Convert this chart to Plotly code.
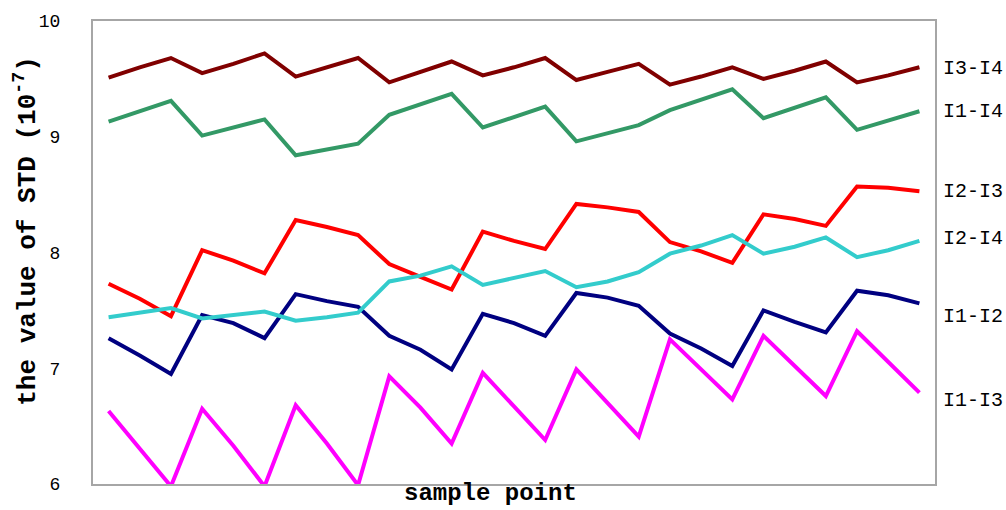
import plotly.graph_objects as go

# sample index along the x axis
sample_points = list(range(1, 28))

# standard deviation of each channel pair, in units of 1e-7
series_names = ["I1-I2", "I1-I3", "I1-I4", "I2-I3", "I2-I4", "I3-I4"]
i1_i2 = [7.26, 7.11, 6.95, 7.46, 7.39, 7.26, 7.64, 7.58, 7.53,
         7.28, 7.16, 6.99, 7.47, 7.39, 7.28, 7.65, 7.61, 7.54,
         7.30, 7.17, 7.02, 7.50, 7.40, 7.31, 7.67, 7.63, 7.56]
i1_i3 = [6.63, 6.31, 5.98, 6.65, 6.33, 5.98, 6.68, 6.35, 5.99,
         6.93, 6.66, 6.35, 6.96, 6.67, 6.38, 6.99, 6.70, 6.41,
         7.25, 6.99, 6.73, 7.28, 7.02, 6.76, 7.32, 7.06, 6.79]
i1_i4 = [9.13, 9.22, 9.31, 9.01, 9.08, 9.15, 8.84, 8.89, 8.94,
         9.19, 9.28, 9.37, 9.08, 9.17, 9.26, 8.96, 9.03, 9.10,
         9.23, 9.32, 9.41, 9.16, 9.25, 9.34, 9.06, 9.14, 9.22]
i2_i3 = [7.73, 7.60, 7.45, 8.02, 7.93, 7.82, 8.28, 8.22, 8.15,
         7.90, 7.79, 7.68, 8.18, 8.10, 8.03, 8.42, 8.39, 8.35,
         8.09, 8.01, 7.91, 8.33, 8.29, 8.23, 8.57, 8.56, 8.53]
i2_i4 = [7.44, 7.48, 7.52, 7.43, 7.46, 7.49, 7.41, 7.44, 7.48,
         7.75, 7.80, 7.88, 7.72, 7.78, 7.84, 7.70, 7.75, 7.83,
         7.99, 8.06, 8.15, 7.99, 8.05, 8.13, 7.96, 8.02, 8.10]
i3_i4 = [9.51, 9.60, 9.68, 9.55, 9.63, 9.72, 9.52, 9.60, 9.68,
         9.47, 9.56, 9.65, 9.53, 9.60, 9.68, 9.49, 9.56, 9.63,
         9.45, 9.52, 9.60, 9.50, 9.57, 9.65, 9.47, 9.53, 9.60]

series_values = [i1_i2, i1_i3, i1_i4, i2_i3, i2_i4, i3_i4]
series_colors = ["#000080", "#FF00FF", "#339966", "#FF0000", "#33CCCC", "#800000"]

# vertical placement of the series names to the right of the plot
label_y = [7.45, 6.72, 9.22, 8.53, 8.12, 9.59]

y_ticks = [6, 7, 8, 9, 10]

fig = go.Figure()
for name, vals, color in zip(series_names, series_values, series_colors):
    fig.add_trace(go.Scatter(
        x=sample_points, y=vals, mode="lines", name=name,
        line=dict(color=color, width=4),
    ))

for name, ly in zip(series_names, label_y):
    fig.add_annotation(
        x=1.0075, xref="paper", y=ly, yref="y",
        text=name, showarrow=False, xanchor="left", yanchor="middle",
        font=dict(family="Liberation Mono", size=20, color="#000000"),
    )

fig.add_annotation(
    x=0.4715, xref="paper", y=-0.0214, yref="paper",
    text="<b>sample point</b>", showarrow=False,
    xanchor="center", yanchor="middle",
    font=dict(family="Liberation Mono", size=24, color="#000000", weight="bold"),
)
fig.add_annotation(
    x=-0.079, xref="paper", y=0.548, yref="paper",
    text="<b>the value of STD (10<sup>-7</sup>)</b>", showarrow=False,
    textangle=-90, xanchor="center", yanchor="middle",
    font=dict(family="Liberation Mono", size=26, color="#000000", weight="bold"),
)

frame = dict(showline=True, mirror=True, linecolor="#a6a6a6", linewidth=2,
             showgrid=False, zeroline=False)
fig.update_xaxes(range=[0.5, 27.5], showticklabels=False, ticks="", **frame)
fig.update_yaxes(range=[6, 10], tickvals=y_ticks, ticks="",
                 ticklabelstandoff=27,
                 tickfont=dict(family="Liberation Mono", size=18, color="#000000"),
                 **frame)

fig.update_layout(
    width=1006, height=510,
    margin=dict(l=93, r=71, t=17, b=26),
    paper_bgcolor="white", plot_bgcolor="white",
    showlegend=False,
)

fig.write_html("out.html")
